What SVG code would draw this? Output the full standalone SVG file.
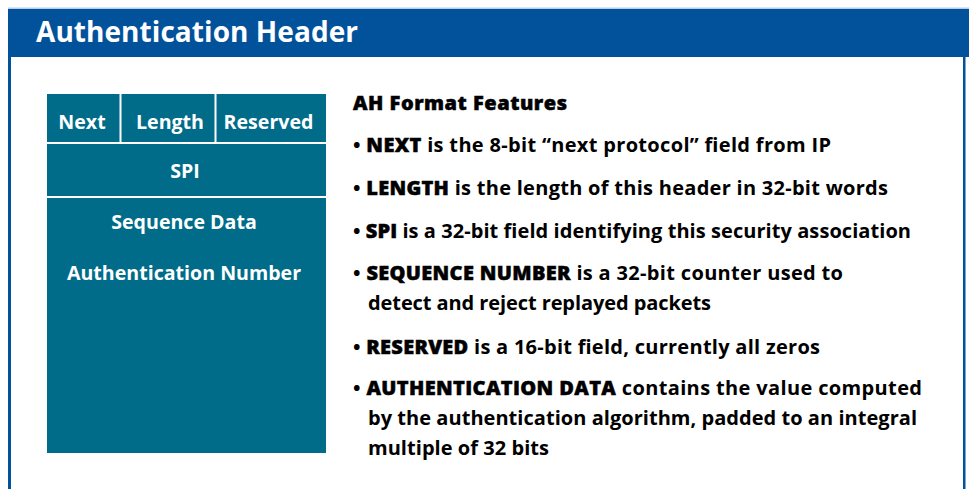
<svg xmlns="http://www.w3.org/2000/svg" width="969" height="489" viewBox="0 0 969 489">
  <style>
    .title { font-family: "Open Sans", "Noto Sans", sans-serif; font-weight: 700; font-size: 28px; fill: #ffffff; }
    .cell { font-family: "Open Sans", "Noto Sans", sans-serif; font-weight: 700; font-size: 19.6px; fill: #ffffff; text-anchor: middle; }
    .body { font-family: "Open Sans", "Noto Sans", sans-serif; font-weight: 700; font-size: 20px; fill: #000000; }
    .kw { font-weight: 800; stroke: #000000; stroke-width: 0.5; }
    .sep { stroke: #ffffff; stroke-width: 2; }
  </style>
  <rect x="0" y="0" width="969" height="489" fill="#ffffff"/>

  <!-- frame -->
  <g id="frame">
    <rect x="8" y="7.5" width="961" height="1.5" fill="#b9cde6"/>
    <rect x="8" y="9" width="961" height="48" fill="#02529b"/>
    <rect x="8" y="57" width="3" height="432" fill="#02529b"/>
    <rect x="963" y="57" width="2.5" height="432" fill="#02529b"/>
    <text class="title" x="36" y="42" textLength="322" lengthAdjust="spacing">Authentication Header</text>
  </g>

  <!-- AH packet layout -->
  <g id="ah-layout">
    <rect x="47" y="94" width="279" height="359" fill="#006c89"/>
    <line class="sep" x1="120.5" y1="94" x2="120.5" y2="142"/>
    <line class="sep" x1="215.5" y1="94" x2="215.5" y2="142"/>
    <line class="sep" x1="47" y1="143" x2="326" y2="143"/>
    <line class="sep" x1="47" y1="197" x2="326" y2="197"/>
    <text class="cell" x="82" y="129">Next</text>
    <text class="cell" x="170" y="129">Length</text>
    <text class="cell" x="268.5" y="129">Reserved</text>
    <text class="cell" x="185" y="178">SPI</text>
    <text class="cell" x="184" y="229">Sequence Data</text>
    <text class="cell" x="184" y="280">Authentication Number</text>
  </g>

  <!-- feature list -->
  <g id="features">
    <text class="body kw" x="353" y="110" textLength="214" lengthAdjust="spacing">AH Format Features</text>
    <text class="body" x="353" y="152" textLength="478" lengthAdjust="spacing">• <tspan class="kw">NEXT</tspan> is the 8-bit “next protocol” field from IP</text>
    <text class="body" x="353" y="195" textLength="535" lengthAdjust="spacing">• <tspan class="kw">LENGTH</tspan> is the length of this header in 32-bit words</text>
    <text class="body" x="353" y="238" textLength="558" lengthAdjust="spacing">• <tspan class="kw">SPI</tspan> is a 32-bit field identifying this security association</text>
    <text class="body" x="353" y="280" textLength="490" lengthAdjust="spacing">• <tspan class="kw">SEQUENCE NUMBER</tspan> is a 32-bit counter used to</text>
    <text class="body" x="368" y="310" textLength="343" lengthAdjust="spacing">detect and reject replayed packets</text>
    <text class="body" x="353" y="354" textLength="467" lengthAdjust="spacing">• <tspan class="kw">RESERVED</tspan> is a 16-bit field, currently all zeros</text>
    <text class="body" x="353" y="395" textLength="569" lengthAdjust="spacing">• <tspan class="kw">AUTHENTICATION DATA</tspan> contains the value computed</text>
    <text class="body" x="368" y="425" textLength="549" lengthAdjust="spacing">by the authentication algorithm, padded to an integral</text>
    <text class="body" x="368" y="455" textLength="181" lengthAdjust="spacing">multiple of 32 bits</text>
  </g>
</svg>
